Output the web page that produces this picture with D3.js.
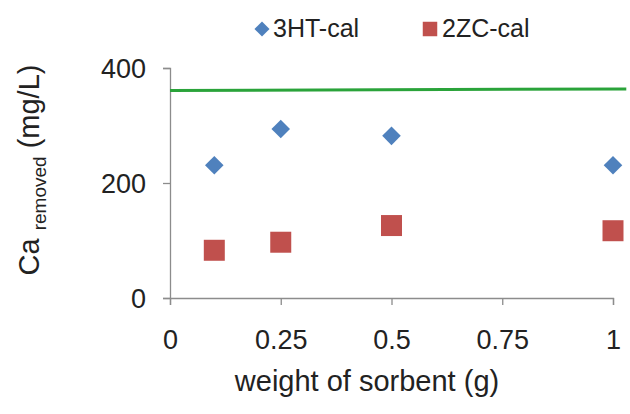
<!DOCTYPE html>
<html>
<head>
<meta charset="utf-8">
<script src="https://cdn.jsdelivr.net/npm/d3@7"></script>
<style>
  body { margin: 0; background: #fff; }
  text { font-family: "Liberation Sans", Arial, sans-serif; fill: #222; }
</style>
</head>
<body>
<script>
(function () {
  const weights = [0.1, 0.25, 0.5, 1];
  const ht = [231, 294, 282, 231];
  const zc = [83, 97, 126, 117];
  const initialX = [0, 1.03];
  const initialY = [361, 363.5];
  const xTicks = [0, 0.25, 0.5, 0.75, 1];
  const yTicks = [0, 200, 400];
  const seriesNames = ['3HT-cal', '2ZC-cal'];

  const width = 630, height = 414;
  const axisColor = '#8c8c8c';
  const blue = '#4f81bd', red = '#c0504d', green = '#2aa33a';

  const x = d3.scaleLinear().domain([0, 1]).range([170, 613]);
  const y = d3.scaleLinear().domain([0, 400]).range([298, 68]);

  const svg = d3.select('body').append('svg')
    .attr('width', width)
    .attr('height', height);

  // axes
  const xAxis = svg.append('g')
    .attr('transform', `translate(0,${y(0)})`)
    .call(d3.axisBottom(x).tickValues(xTicks).tickSize(7)
      .tickFormat(d => d3.format('')(d)));
  xAxis.selectAll('.tick text').attr('y', 51).attr('dy', 0);

  const yAxis = svg.append('g')
    .attr('transform', `translate(${x(0)},0)`)
    .call(d3.axisLeft(y).tickValues(yTicks).tickSize(7).tickPadding(17));
  yAxis.selectAll('.tick text').attr('dy', '0.36em');

  [xAxis, yAxis].forEach(g => {
    g.select('.domain').attr('stroke', axisColor).attr('stroke-width', 1.3);
    g.selectAll('.tick line').attr('stroke', axisColor).attr('stroke-width', 1.3);
    g.selectAll('.tick text').style('font-size', '27px')
      .style('font-family', '"Liberation Sans", Arial, sans-serif').attr('fill', '#222');
  });

  // reference line
  svg.append('line')
    .attr('x1', x(initialX[0])).attr('y1', y(initialY[0]))
    .attr('x2', x(initialX[1])).attr('y2', y(initialY[1]))
    .attr('stroke', green).attr('stroke-width', 3);

  const diamond = d3.symbol().type(d3.symbolDiamond2).size(220);
  const square = d3.symbol().type(d3.symbolSquare).size(441);

  svg.append('g').selectAll('path')
    .data(weights.map((w, i) => [w, ht[i]]))
    .enter().append('path')
    .attr('d', diamond)
    .attr('transform', d => `translate(${x(d[0])},${y(d[1])})`)
    .attr('fill', blue);

  svg.append('g').selectAll('path')
    .data(weights.map((w, i) => [w, zc[i]]))
    .enter().append('path')
    .attr('d', square)
    .attr('transform', d => `translate(${x(d[0])},${y(d[1])})`)
    .attr('fill', red);

  // legend
  const legend = svg.append('g');
  legend.append('path').attr('d', d3.symbol().type(d3.symbolDiamond2).size(145))
    .attr('transform', 'translate(262,29)').attr('fill', blue);
  legend.append('text').attr('x', 273).attr('y', 37).style('font-size', '25px').text(seriesNames[0]);
  legend.append('path').attr('d', d3.symbol().type(d3.symbolSquare).size(210))
    .attr('transform', 'translate(430,29)').attr('fill', red);
  legend.append('text').attr('x', 442).attr('y', 37).style('font-size', '25px').text(seriesNames[1]);

  // axis titles
  svg.append('text')
    .attr('x', 367).attr('y', 391)
    .attr('text-anchor', 'middle')
    .style('font-size', '29px')
    .text('weight of sorbent (g)');

  const yt = svg.append('text')
    .attr('transform', 'translate(39,170) rotate(-90)')
    .attr('text-anchor', 'middle');
  yt.append('tspan').style('font-size', '29px').text('Ca ');
  yt.append('tspan').style('font-size', '19px').attr('dy', 7).text('removed');
  yt.append('tspan').style('font-size', '29px').attr('dy', -7).text(' (mg/L)');
})();
</script>
</body>
</html>
